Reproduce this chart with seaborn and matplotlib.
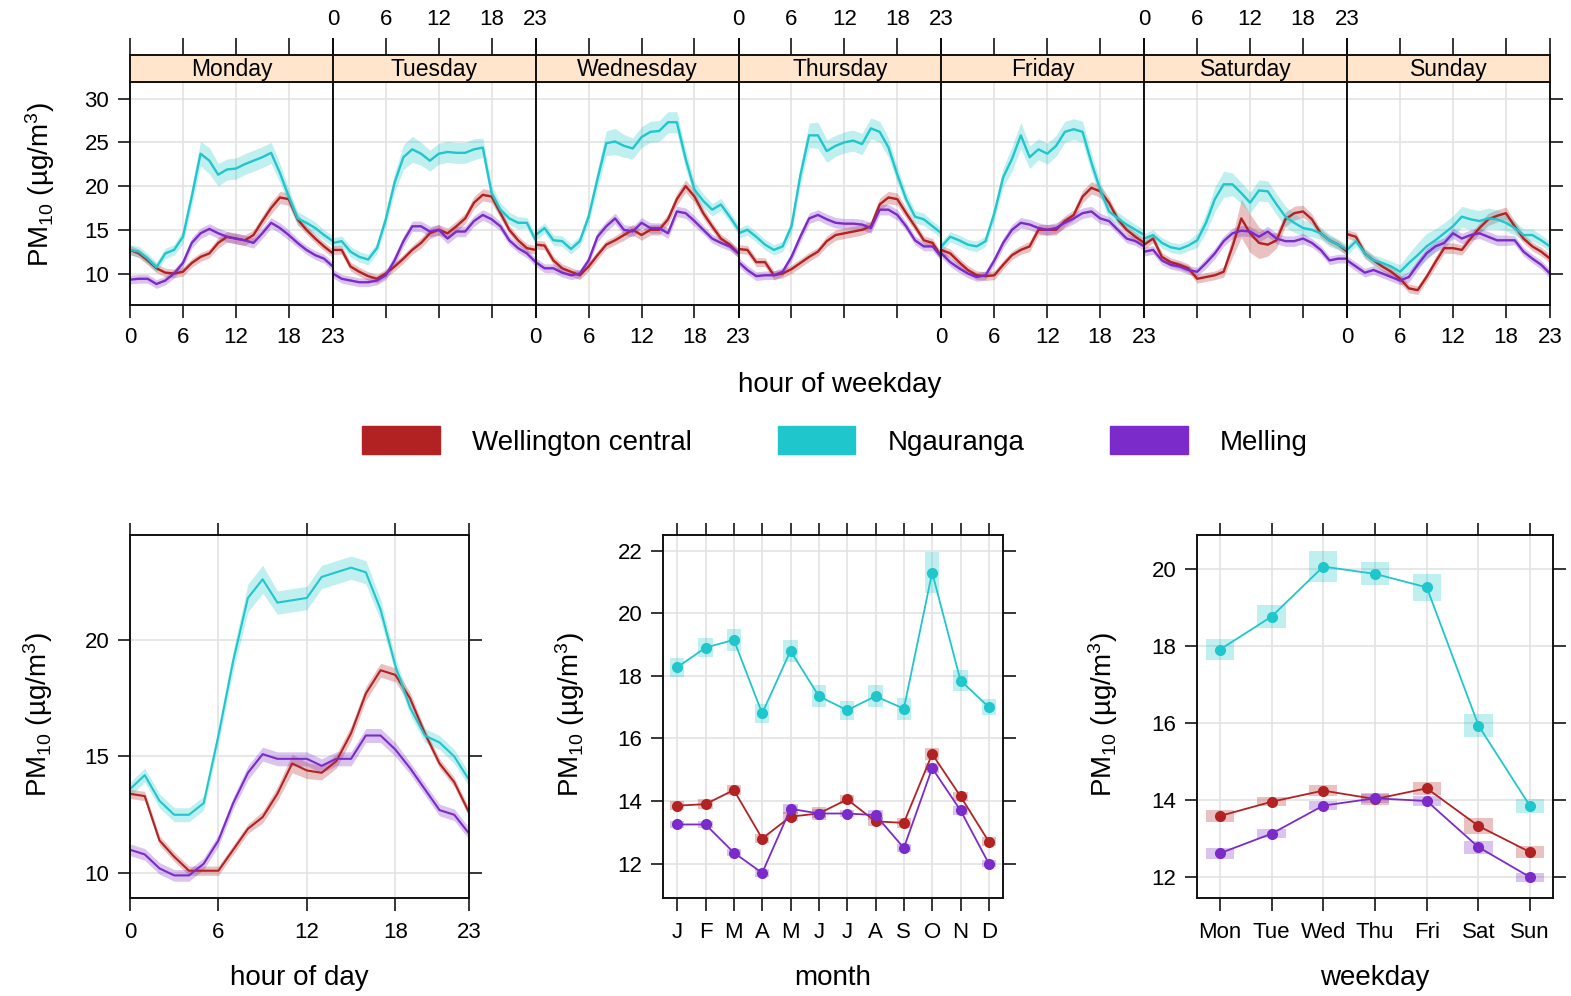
import numpy as np
import pandas as pd
import matplotlib
matplotlib.use("Agg")
import matplotlib.pyplot as plt
from matplotlib.patches import Patch
import seaborn as sns

sns.set_theme(style="white")
plt.rcParams["font.family"] = ["Liberation Sans", "DejaVu Sans"]
plt.rcParams["mathtext.fontset"] = "custom"
plt.rcParams["mathtext.rm"] = "Liberation Sans"
plt.rcParams["mathtext.it"] = "Liberation Sans:italic"
plt.rcParams["text.color"] = "black"
plt.rcParams["xtick.color"] = "black"
plt.rcParams["ytick.color"] = "black"
plt.rcParams["axes.labelcolor"] = "black"

# ---------------------------------------------------------------- data
sites = ["Wellington central", "Ngauranga", "Melling"]
site_colors = ["#B22222", "#1FC6CB", "#7B2BC9"]
days = ["Monday", "Tuesday", "Wednesday", "Thursday", "Friday", "Saturday", "Sunday"]
hours = list(range(24))
hour_ticks = [0, 6, 12, 18, 23]
month_labels = ["J", "F", "M", "A", "M", "J", "J", "A", "S", "O", "N", "D"]
weekday_labels = ["Mon", "Tue", "Wed", "Thu", "Fri", "Sat", "Sun"]

# hourly means by weekday, Wellington central
wel_mon = [12.7, 12.3, 11.5, 10.6, 10.1, 10.0, 10.2, 11.2, 11.9, 12.3, 13.5, 14.2, 14.0, 13.8, 14.4, 16.0, 17.5, 18.7, 18.5, 16.2, 15.0, 14.0, 13.1, 12.3]
wel_tue = [12.7, 12.7, 10.8, 10.2, 9.7, 9.4, 10.0, 10.8, 11.7, 12.7, 13.5, 14.6, 15.0, 14.6, 15.4, 16.3, 18.1, 19.0, 18.8, 16.9, 15.0, 13.8, 12.9, 12.7]
wel_wed = [13.3, 13.2, 11.5, 10.6, 10.2, 9.8, 10.8, 12.1, 13.3, 13.8, 14.4, 15.0, 14.4, 15.0, 15.0, 16.2, 18.5, 20.0, 18.8, 16.9, 15.4, 14.0, 13.3, 12.3]
wel_thu = [12.8, 12.7, 11.3, 11.3, 9.8, 10.0, 10.5, 11.2, 11.9, 12.5, 13.7, 14.4, 14.6, 14.8, 15.0, 15.4, 17.9, 18.7, 18.5, 16.9, 15.4, 13.8, 13.5, 11.9]
wel_fri = [12.7, 12.3, 11.3, 10.4, 9.8, 9.7, 9.8, 11.0, 12.1, 12.7, 13.1, 15.0, 15.0, 15.0, 16.0, 16.7, 18.8, 19.8, 19.4, 18.1, 16.2, 15.0, 14.2, 13.5]
wel_sat = [13.3, 14.0, 11.9, 11.3, 11.0, 10.6, 9.4, 9.6, 9.8, 10.2, 13.1, 16.3, 14.6, 13.5, 13.3, 13.8, 16.2, 16.9, 17.1, 16.2, 14.6, 13.8, 13.3, 12.5]
wel_sun = [14.5, 14.2, 12.3, 11.5, 10.8, 10.2, 9.4, 8.3, 8.1, 9.6, 11.3, 12.9, 12.9, 12.7, 14.0, 15.2, 16.2, 16.6, 16.9, 15.4, 14.0, 13.1, 12.5, 11.7]

# hourly means by weekday, Ngauranga
nga_mon = [12.7, 12.5, 11.7, 10.7, 12.3, 12.7, 14.2, 18.8, 23.7, 22.9, 21.3, 21.9, 22.0, 22.5, 22.9, 23.3, 23.8, 21.5, 18.8, 16.3, 15.8, 15.2, 14.4, 13.7]
nga_tue = [13.5, 13.7, 12.5, 11.9, 11.6, 12.9, 16.2, 20.4, 23.3, 24.2, 23.7, 22.9, 23.7, 23.9, 23.8, 23.8, 24.2, 24.4, 19.2, 17.3, 16.3, 15.8, 15.8, 13.8]
nga_wed = [14.4, 15.2, 13.8, 13.7, 12.8, 13.7, 16.5, 20.8, 24.9, 25.1, 24.6, 24.3, 25.6, 26.2, 26.3, 27.3, 27.3, 23.1, 19.6, 18.3, 17.3, 17.9, 16.5, 15.0]
nga_thu = [14.6, 15.0, 14.2, 13.3, 12.7, 13.1, 15.4, 21.2, 25.8, 25.8, 24.0, 24.6, 25.0, 25.2, 24.8, 26.6, 26.2, 24.4, 21.3, 18.5, 16.5, 16.2, 15.4, 14.6]
nga_fri = [13.1, 14.2, 13.8, 13.3, 13.1, 13.7, 16.9, 21.0, 23.1, 25.8, 23.3, 24.2, 23.7, 24.6, 26.2, 26.5, 26.2, 22.7, 19.6, 17.1, 16.3, 15.6, 15.0, 14.4]
nga_sat = [14.0, 14.4, 13.5, 13.0, 12.8, 13.2, 13.8, 15.8, 18.5, 20.2, 20.2, 19.2, 18.1, 19.5, 19.4, 17.9, 16.5, 15.8, 15.2, 15.0, 14.6, 13.8, 13.3, 12.7]
nga_sun = [12.7, 13.7, 12.3, 11.5, 11.2, 10.8, 10.2, 11.2, 12.1, 13.1, 13.8, 14.6, 15.4, 16.5, 16.2, 16.0, 16.3, 16.2, 15.8, 15.2, 14.4, 14.4, 13.8, 13.1]

# hourly means by weekday, Melling
mel_mon = [9.3, 9.4, 9.4, 8.8, 9.2, 10.0, 11.2, 13.5, 14.6, 15.1, 14.6, 14.2, 14.0, 13.8, 13.5, 14.6, 15.8, 15.2, 14.4, 13.5, 12.7, 12.1, 11.7, 10.8]
mel_tue = [10.0, 9.4, 9.2, 9.0, 9.0, 9.2, 9.8, 11.5, 13.7, 15.4, 15.4, 14.8, 15.0, 14.0, 14.8, 14.8, 16.0, 16.7, 16.2, 15.4, 13.8, 12.9, 12.3, 11.3]
mel_wed = [11.3, 10.6, 10.6, 10.1, 9.8, 10.0, 11.5, 14.2, 15.4, 16.3, 15.0, 14.8, 15.8, 15.2, 15.2, 14.6, 17.1, 16.9, 16.0, 15.0, 14.0, 13.5, 13.1, 12.3]
mel_thu = [11.3, 10.4, 9.7, 9.8, 9.8, 10.2, 11.9, 14.2, 16.3, 16.7, 16.2, 15.8, 15.7, 15.7, 15.6, 15.2, 17.3, 17.3, 16.7, 15.4, 13.8, 13.1, 13.1, 11.9]
mel_fri = [12.3, 11.3, 10.6, 10.0, 9.6, 9.8, 11.5, 13.5, 15.0, 15.8, 15.6, 15.2, 15.0, 15.2, 15.8, 16.3, 16.9, 17.1, 16.3, 16.0, 15.0, 14.0, 13.7, 13.1]
mel_sat = [12.5, 12.7, 11.5, 11.0, 10.8, 10.4, 10.2, 11.2, 12.3, 13.7, 14.6, 14.9, 14.8, 14.2, 14.8, 14.0, 13.7, 13.7, 14.0, 13.5, 12.7, 11.5, 11.7, 11.7]
mel_sun = [11.5, 10.8, 10.1, 10.4, 10.0, 9.6, 9.2, 9.6, 11.0, 12.3, 13.1, 13.5, 14.6, 14.0, 14.4, 14.6, 14.2, 13.8, 13.8, 13.8, 12.5, 11.7, 11.0, 10.0]

# 95% CI half-widths for the hour-of-weekday panels, by hour
wel_week_ci = [0.5, 0.5, 0.5, 0.5, 0.5, 0.5, 0.5, 0.5, 0.5, 0.5, 0.6, 0.6, 0.6, 0.6, 0.6, 0.6, 0.7, 0.7, 0.7, 0.6, 0.5, 0.5, 0.5, 0.5]
wel_sat_ci = [0.5, 0.5, 0.5, 0.5, 0.5, 0.5, 0.5, 0.5, 0.5, 0.6, 1.2, 2.2, 2.2, 1.8, 1.3, 0.9, 0.8, 0.8, 0.7, 0.6, 0.5, 0.5, 0.5, 0.5]
nga_week_ci = [0.6, 0.6, 0.6, 0.6, 0.6, 0.6, 0.8, 1.1, 1.4, 1.5, 1.3, 1.2, 1.2, 1.2, 1.2, 1.2, 1.2, 1.1, 0.9, 0.8, 0.7, 0.7, 0.6, 0.6]
mel_week_ci = [0.5, 0.5, 0.5, 0.5, 0.5, 0.5, 0.5, 0.6, 0.6, 0.6, 0.6, 0.6, 0.6, 0.6, 0.6, 0.6, 0.6, 0.6, 0.6, 0.5, 0.5, 0.5, 0.5, 0.5]

# mean diurnal cycle
wel_hour = [13.4, 13.3, 11.4, 10.7, 10.1, 10.1, 10.1, 11.0, 11.9, 12.4, 13.4, 14.7, 14.4, 14.3, 14.8, 16.0, 17.7, 18.7, 18.5, 17.5, 16.0, 14.7, 13.9, 12.6]
nga_hour = [13.6, 14.2, 13.1, 12.5, 12.5, 13.0, 15.9, 19.1, 21.8, 22.6, 21.6, 21.7, 21.8, 22.7, 22.9, 23.1, 22.9, 21.3, 18.9, 17.1, 15.9, 15.6, 15.0, 14.0]
mel_hour = [11.0, 10.8, 10.2, 9.9, 9.9, 10.4, 11.4, 13.0, 14.3, 15.1, 14.9, 14.9, 14.9, 14.6, 14.9, 14.9, 15.9, 15.9, 15.3, 14.5, 13.6, 12.7, 12.5, 11.7]
wel_hour_ci = [0.2, 0.2, 0.2, 0.2, 0.2, 0.2, 0.2, 0.2, 0.2, 0.25, 0.3, 0.4, 0.35, 0.3, 0.3, 0.3, 0.3, 0.3, 0.3, 0.25, 0.2, 0.2, 0.2, 0.2]
nga_hour_ci = [0.3, 0.3, 0.3, 0.3, 0.3, 0.3, 0.35, 0.45, 0.6, 0.6, 0.5, 0.5, 0.5, 0.5, 0.5, 0.5, 0.5, 0.45, 0.35, 0.3, 0.3, 0.3, 0.3, 0.3]
mel_hour_ci = [0.25, 0.25, 0.25, 0.25, 0.25, 0.25, 0.25, 0.25, 0.3, 0.3, 0.3, 0.3, 0.3, 0.3, 0.3, 0.3, 0.3, 0.3, 0.3, 0.25, 0.25, 0.25, 0.25, 0.25]

# monthly means
wel_month = [13.85, 13.9, 14.35, 12.8, 13.5, 13.6, 14.05, 13.35, 13.3, 15.5, 14.15, 12.7]
nga_month = [18.27, 18.9, 19.15, 16.8, 18.8, 17.35, 16.9, 17.35, 16.95, 21.3, 17.85, 17.0]
mel_month = [13.25, 13.25, 12.35, 11.7, 13.75, 13.6, 13.6, 13.55, 12.5, 15.05, 13.7, 12.0]
wel_month_ci = [0.15, 0.15, 0.15, 0.15, 0.15, 0.2, 0.15, 0.15, 0.15, 0.2, 0.15, 0.15]
nga_month_ci = [0.3, 0.3, 0.35, 0.3, 0.35, 0.35, 0.3, 0.35, 0.35, 0.65, 0.35, 0.25]
mel_month_ci = [0.12, 0.12, 0.12, 0.12, 0.15, 0.15, 0.12, 0.15, 0.12, 0.15, 0.15, 0.12]

# weekday means
wel_weekday = [13.58, 13.95, 14.24, 14.02, 14.3, 13.32, 12.64]
nga_weekday = [17.9, 18.76, 20.06, 19.87, 19.52, 15.93, 13.83]
mel_weekday = [12.61, 13.12, 13.85, 14.04, 13.97, 12.77, 11.99]
wel_weekday_ci = [0.15, 0.12, 0.15, 0.15, 0.17, 0.2, 0.15]
nga_weekday_ci = [0.28, 0.3, 0.4, 0.3, 0.35, 0.3, 0.18]
mel_weekday_ci = [0.14, 0.12, 0.12, 0.12, 0.12, 0.17, 0.12]

week_values = {
    "Wellington central": [wel_mon, wel_tue, wel_wed, wel_thu, wel_fri, wel_sat, wel_sun],
    "Ngauranga": [nga_mon, nga_tue, nga_wed, nga_thu, nga_fri, nga_sat, nga_sun],
    "Melling": [mel_mon, mel_tue, mel_wed, mel_thu, mel_fri, mel_sat, mel_sun],
}
week_ci = {
    "Wellington central": [wel_week_ci] * 5 + [wel_sat_ci, wel_week_ci],
    "Ngauranga": [nga_week_ci] * 7,
    "Melling": [mel_week_ci] * 7,
}

rows = []
for s in sites:
    for d, day in enumerate(days):
        for h in hours:
            v = week_values[s][d][h]
            c = week_ci[s][d][h]
            rows.append((s, day, h, v, v - c, v + c))
week_df = pd.DataFrame(rows, columns=["site", "day", "hour", "pm10", "lo", "hi"])

hour_df = pd.DataFrame({
    "site": np.repeat(sites, 24),
    "hour": hours * 3,
    "pm10": wel_hour + nga_hour + mel_hour,
    "ci": wel_hour_ci + nga_hour_ci + mel_hour_ci,
})
month_df = pd.DataFrame({
    "site": np.repeat(sites, 12),
    "month": list(range(1, 13)) * 3,
    "pm10": wel_month + nga_month + mel_month,
    "ci": wel_month_ci + nga_month_ci + mel_month_ci,
})
weekday_df = pd.DataFrame({
    "site": np.repeat(sites, 7),
    "weekday": list(range(1, 8)) * 3,
    "pm10": wel_weekday + nga_weekday + mel_weekday,
    "ci": wel_weekday_ci + nga_weekday_ci + mel_weekday_ci,
})
palette = dict(zip(sites, site_colors))

# ---------------------------------------------------------------- layout
W, H = 1571, 996
fig = plt.figure(figsize=(W / 100, H / 100), dpi=100)


def fx(px):
    return px / W


def fy(py):
    return 1 - py / H


ylab = "PM$_{10}$ (µg/m$^{3}$)"
GRID = "#e3e3e3"
TICK_FS = 16
LAB_FS = 20
SPINE_LW = 1.4
TICK_LEN = 9


def style_frame(ax):
    for sp in ax.spines.values():
        sp.set_linewidth(SPINE_LW)
        sp.set_color("#111111")
    ax.set_axisbelow(True)


# ----------------------------------------------- hour of weekday panels
left0, right0 = 130, 1550
panel_top, panel_bot, strip_top = 82, 305, 55
pw = (right0 - left0) / 7
for i, day in enumerate(days):
    x0 = left0 + i * pw
    ax = fig.add_axes([fx(x0), fy(panel_bot), pw / W, (panel_bot - panel_top) / H])
    sub = week_df[week_df["day"] == day]
    for s in sites:
        d = sub[sub["site"] == s]
        ax.fill_between(d["hour"], d["lo"], d["hi"], color=palette[s], alpha=0.28, lw=0)
    sns.lineplot(data=sub, x="hour", y="pm10", hue="site", hue_order=sites,
                 palette=palette, lw=1.7, ax=ax, legend=False, errorbar=None)
    ax.set_xlim(0, 23)
    ax.set_ylim(6.4, 31.9)
    ax.set_xticks(hour_ticks)
    ax.set_yticks([10, 15, 20, 25, 30])
    ax.grid(True, color=GRID, lw=1.2)
    ax.set_xlabel("")
    ax.set_ylabel("")
    style_frame(ax)
    ax.tick_params(axis="x", direction="out", length=TICK_LEN, width=1.1, bottom=True,
                   top=False, labelbottom=(i % 2 == 0), labelsize=TICK_FS, pad=7)
    ax.tick_params(axis="y", direction="out", length=TICK_LEN, width=1.1,
                   left=(i == 0), right=(i == 6), labelleft=(i == 0),
                   labelright=False, labelsize=TICK_FS, pad=6)

    sax = fig.add_axes([fx(x0), fy(panel_top), pw / W, (panel_top - strip_top) / H])
    sax.set_facecolor("#FFE5CC")
    sax.set_xlim(0, 23)
    sax.set_xticks(hour_ticks)
    sax.set_yticks([])
    style_frame(sax)
    sax.tick_params(axis="x", direction="out", length=TICK_LEN + 3, width=1.1,
                    top=True, bottom=False, labeltop=(i % 2 == 1),
                    labelbottom=False, labelsize=TICK_FS, pad=6)
    sax.text(0.5, 0.45, day, transform=sax.transAxes, ha="center", va="center",
             fontsize=16.5, color="black")

fig.text(fx(840), fy(385), "hour of weekday", ha="center", va="center", fontsize=LAB_FS)
fig.text(fx(40), fy(185), ylab, rotation=90, ha="center", va="center", fontsize=LAB_FS)

# legend
handles = [Patch(facecolor=c, edgecolor=c) for c in site_colors]
fig.legend(handles, sites, loc="center", bbox_to_anchor=(fx(835), fy(441)), ncol=3,
           frameon=False, fontsize=LAB_FS, handlelength=2.8, handleheight=1.15,
           handletextpad=1.15, columnspacing=3.1)

# ----------------------------------------------- lower panels
bot_top, bot_bot = 535, 898
boxes = {"hour": (130, 469), "month": (663, 1003), "weekday": (1197, 1553)}


def lower_axes(key):
    l, r = boxes[key]
    ax = fig.add_axes([fx(l), fy(bot_bot), (r - l) / W, (bot_bot - bot_top) / H])
    style_frame(ax)
    ax.grid(True, color=GRID, lw=1.2)
    ax.tick_params(direction="out", length=TICK_LEN, width=1.1, labelsize=TICK_FS,
                   top=True, right=True, bottom=True, left=True,
                   labeltop=False, labelright=False)
    ax.tick_params(axis="x", pad=8)
    ax.tick_params(axis="y", pad=6)
    return ax, (l + r) / 2


# hour of day
ax, cx = lower_axes("hour")
for s in sites:
    d = hour_df[hour_df["site"] == s]
    ax.fill_between(d["hour"], d["pm10"] - d["ci"], d["pm10"] + d["ci"],
                    color=palette[s], alpha=0.28, lw=0)
sns.lineplot(data=hour_df, x="hour", y="pm10", hue="site", hue_order=sites,
             palette=palette, lw=1.5, ax=ax, legend=False, errorbar=None)
ax.set_xlim(0, 23)
ax.set_ylim(8.93, 24.5)
ax.set_xticks(hour_ticks)
ax.set_yticks([10, 15, 20])
ax.set_xlabel("")
ax.set_ylabel("")
fig.text(fx(cx), fy(978), "hour of day", ha="center", va="center", fontsize=LAB_FS)
fig.text(fx(38), fy(715), ylab, rotation=90, ha="center", va="center", fontsize=LAB_FS)

# month
ax, cx = lower_axes("month")
for s in sites:
    d = month_df[month_df["site"] == s]
    ax.bar(d["month"], 2 * d["ci"], bottom=d["pm10"] - d["ci"], width=0.5,
           color=palette[s], alpha=0.28, lw=0)
sns.lineplot(data=month_df, x="month", y="pm10", hue="site", hue_order=sites,
             palette=palette, lw=1.3, marker="o", markersize=8, markeredgewidth=0,
             ax=ax, legend=False, errorbar=None)
ax.set_xlim(0.5, 12.5)
ax.set_ylim(10.9, 22.5)
ax.set_xticks(range(1, 13))
ax.set_xticklabels(month_labels)
ax.set_yticks([12, 14, 16, 18, 20, 22])
ax.set_xlabel("")
ax.set_ylabel("")
fig.text(fx(cx), fy(978), "month", ha="center", va="center", fontsize=LAB_FS)
fig.text(fx(570), fy(715), ylab, rotation=90, ha="center", va="center", fontsize=LAB_FS)

# weekday
ax, cx = lower_axes("weekday")
for s in sites:
    d = weekday_df[weekday_df["site"] == s]
    ax.bar(d["weekday"], 2 * d["ci"], bottom=d["pm10"] - d["ci"], width=0.55,
           color=palette[s], alpha=0.28, lw=0)
sns.lineplot(data=weekday_df, x="weekday", y="pm10", hue="site", hue_order=sites,
             palette=palette, lw=1.3, marker="o", markersize=8, markeredgewidth=0,
             ax=ax, legend=False, errorbar=None)
ax.set_xlim(0.56, 7.44)
ax.set_ylim(11.45, 20.88)
ax.set_xticks(range(1, 8))
ax.set_xticklabels(weekday_labels)
ax.set_yticks([12, 14, 16, 18, 20])
ax.set_xlabel("")
ax.set_ylabel("")
fig.text(fx(cx), fy(978), "weekday", ha="center", va="center", fontsize=LAB_FS)
fig.text(fx(1103), fy(715), ylab, rotation=90, ha="center", va="center", fontsize=LAB_FS)

fig.savefig("out.png", dpi=100, facecolor="white")
